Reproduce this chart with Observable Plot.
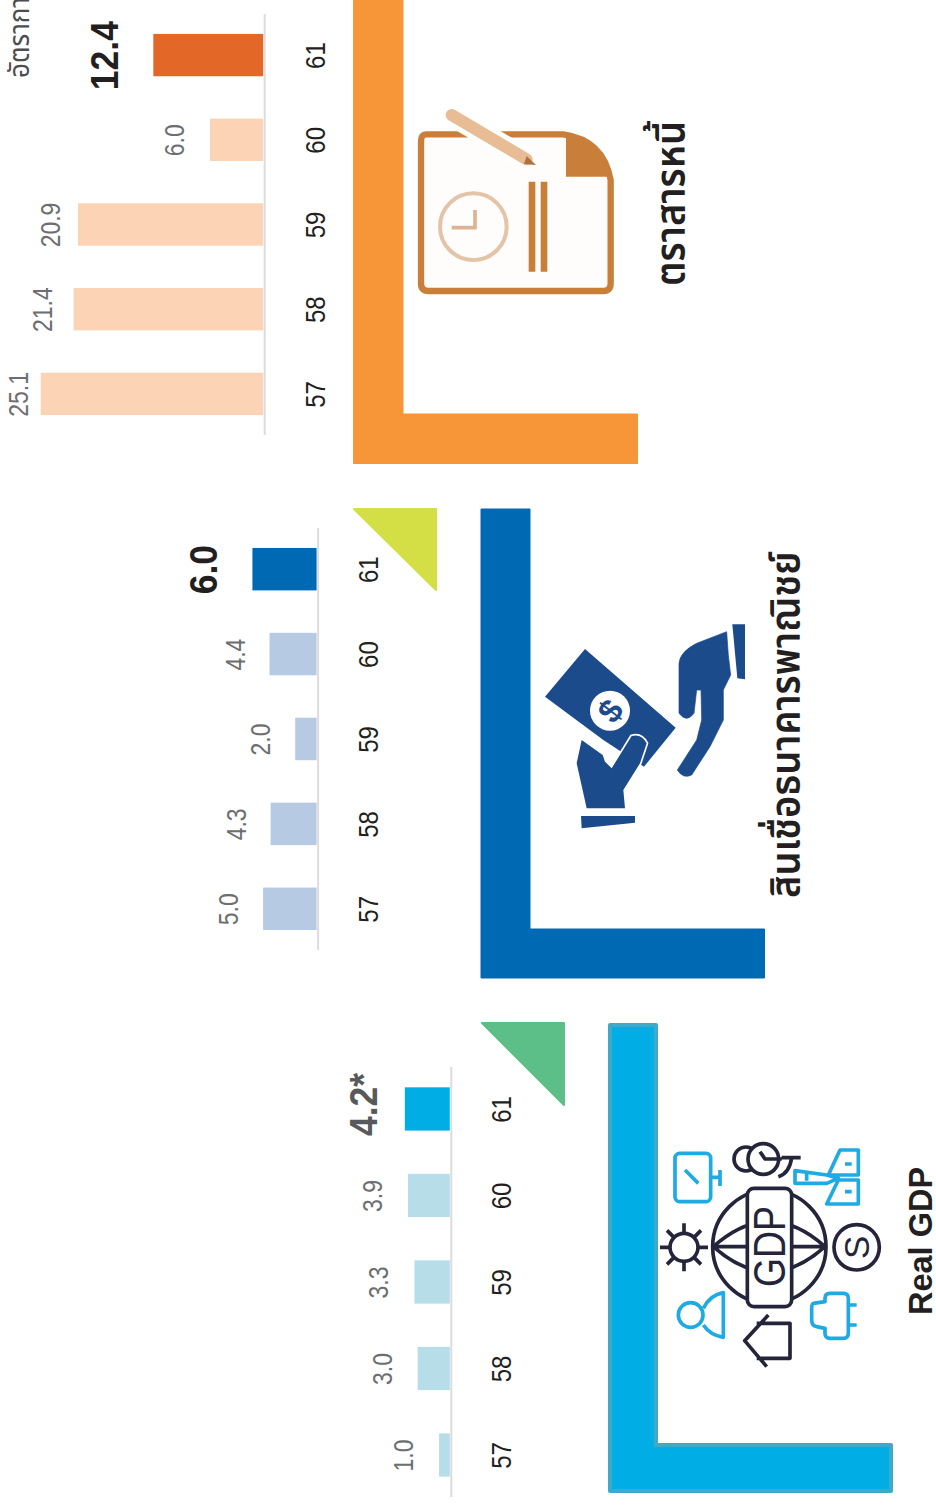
<!DOCTYPE html>
<html lang="th">
<head>
<meta charset="utf-8">
<title>Real GDP, สินเชื่อธนาคารพาณิชย์, ตราสารหนี้</title>
<script src="https://cdn.jsdelivr.net/npm/d3@7"></script>
<script src="https://cdn.jsdelivr.net/npm/@observablehq/plot@0.6"></script>
<style>
  html, body { margin: 0; padding: 0; background: #fff; }
  #page { position: relative; width: 936px; height: 1506px; overflow: hidden; background: #fff; }
  #page svg { position: absolute; top: 0; left: 0; }
</style>
</head>
<body>
<div id="page"></div>
<script>
// Growth figures, % per year, Buddhist-era years 2557-2561
const years = ["57", "58", "59", "60", "61"];
const debtGrowth = [25.1, 21.4, 20.9, 6.0, 12.4];
const creditGrowth = [5.0, 4.3, 2.0, 4.4, 6.0];
const gdpGrowth = [1.0, 3.0, 3.3, 3.9, 4.2];

const FONT = '"Liberation Sans", Arial, sans-serif';
const THAI = '"Noto Sans Thai", "Noto Sans", "DejaVu Sans", sans-serif';

// Layout of each rotated panel: px per percentage point comes from the x domain.
const panels = [
  {values: debtGrowth, top: 14, bottom: 435, base: 263.2, domainMax: 29.7, soft: "#fcd3b4", strong: "#e36827",
   gaps: [13.5, 22.5, 18.5, 26.5, 36], lastFill: "#231f20", suffix: "", lastLift: 0},
  {values: creditGrowth, top: 528, bottom: 950, base: 316.6, domainMax: 29.6, soft: "#b7cae3", strong: "#0069b4",
   gaps: [25.5, 25.5, 26, 25.5, 36], lastFill: "#231f20", suffix: "", lastLift: 0},
  {values: gdpGrowth, top: 1067, bottom: 1497, base: 449.8, domainMax: 42, soft: "#b7dde8", strong: "#00ade4",
   gaps: [26.5, 26.5, 26.5, 26.5, 28], lastFill: "#58595b", suffix: "*", lastLift: 5}
];

// Text in this sheet is slightly wider across its line height, so glyphs get a cross-axis stretch.
function stretchText(svg) {
  svg.querySelectorAll("text").forEach((t) => {
    const size = +(t.parentNode.getAttribute("font-size") || 0);
    const k = size > 30 ? 1.08 : 1.18;
    t.setAttribute("transform", `${t.getAttribute("transform")} scale(1,${k})`);
  });
  return svg;
}

function barPanel(p) {
  const rows = years.map((year, i) => ({
    year, value: p.values[i], gap: p.gaps[i], latest: i === years.length - 1,
    label: p.values[i].toFixed(1) + (i === years.length - 1 ? p.suffix : "")
  }));
  return stretchText(Plot.plot({
    width: p.base + 100,
    height: p.bottom + 5,
    marginLeft: 0,
    marginRight: 100,
    marginTop: p.top,
    marginBottom: 5,
    style: {background: "transparent", fontFamily: FONT},
    x: {domain: [p.domainMax, 0], axis: null},
    y: {domain: [...years].reverse(), paddingInner: 0.5, paddingOuter: 0.235, round: false, axis: null},
    marks: [
      Plot.barX(rows, {x: "value", y: "year", fill: (d) => (d.latest ? p.strong : p.soft)}),
      Plot.ruleX([0], {stroke: "#dcdcdc", strokeWidth: 2, dx: 1}),
      Plot.axisY({
        anchor: "right", tickSize: 0, tickPadding: 61, tickRotate: -90,
        fontSize: 24, color: "#231f20", label: null
      }),
      ...rows.map((r) => Plot.text([r], {
        x: "value", y: "year", text: "label", rotate: -90,
        textAnchor: "middle", lineAnchor: "bottom", dx: -r.gap, dy: r.latest ? -p.lastLift : 0,
        fontSize: r.latest ? 35.5 : 23,
        fontWeight: r.latest ? "bold" : "normal",
        fill: r.latest ? p.lastFill : "#6d6e71"
      }))
    ]
  }));
}

// Frames, corner wedges, icons and headings, all in sheet pixels.
function artwork() {
  const g = d3.create("svg:g");
  const path = (d, attrs = {}, parent = g) => {
    const e = parent.append("path").attr("d", d);
    Object.entries(attrs).forEach(([k, v]) => e.attr(k, v));
    return e;
  };
  const heading = (text, x, y, size, k, family, weight, fill) =>
    g.append("text").text(text)
      .attr("transform", `translate(${x},${y}) rotate(-90) scale(1,${k})`)
      .attr("text-anchor", "start")
      .attr("font-family", family).attr("font-size", size).attr("font-weight", weight).attr("fill", fill);

  // L-shaped frames and wedges
  path("M353.5,-6H403V414H637.5V463.5H353.5Z", {fill: "#f79539", stroke: "#f79539", "stroke-width": 1, "stroke-linejoin": "round"});
  path("M481,509H530V929H764.5V978H481Z", {fill: "#0069b4", stroke: "#0069b4", "stroke-width": 1, "stroke-linejoin": "round"});
  path("M610,1025H656V1445H891V1491H610Z", {fill: "#00ade4", stroke: "#3fa9c9", "stroke-width": 4, "stroke-linejoin": "round"});
  path("M354,509H436V590Z", {fill: "#d3df45", stroke: "#d3df45", "stroke-width": 2, "stroke-linejoin": "round"});
  path("M482,1023H564V1105Z", {fill: "#5cbf87", stroke: "#5cbf87", "stroke-width": 2, "stroke-linejoin": "round"});

  // Icons are authored on a 3x grid anchored at each icon's own origin
  const icon = (x, y) => g.append("g").attr("transform", `translate(${x},${y}) scale(${1 / 3})`);

  // Document with clock and pencil
  const doc = icon(340, 0);
  const brown = "#c97f3a";
  path("M258,403H670Q790,420 812,540V850Q812,873 790,873H265Q243,873 243,850V425Q243,403 258,403Z",
    {fill: "#fffdfb", stroke: brown, "stroke-width": 19}, doc);
  path("M678,408V530H808Q780,425 678,408Z", {fill: brown}, doc);
  path("M335,345L575,487", {stroke: "#fff", "stroke-width": 66, fill: "none"}, doc);
  path("M335,345L560,478", {stroke: "#e8bd96", "stroke-width": 36, fill: "none", "stroke-linecap": "round"}, doc);
  path("M560,468L588,495L552,492Z", {fill: "#b07040"}, doc);
  path("M576,545V815M612,545V815", {stroke: brown, "stroke-width": 20, fill: "none"}, doc);
  doc.append("circle").attr("cx", 400).attr("cy", 680).attr("r", 100)
    .attr("fill", "none").attr("stroke", "#e4c4a8").attr("stroke-width", 12);
  path("M405,630V683H335", {stroke: "#dcb493", "stroke-width": 11, fill: "none"}, doc);

  // Hands passing a banknote
  const money = icon(470, 500);
  const navy = "#1c4b8c";
  path("M345,447L617,683L522,800L400,720L225,590Z", {fill: navy}, money);
  money.append("circle").attr("cx", 420).attr("cy", 632).attr("r", 60).attr("fill", "#fff");
  money.append("text").text("$").attr("transform", "translate(420,632) rotate(-52)")
    .attr("text-anchor", "middle").attr("dy", "0.36em")
    .attr("font-family", FONT).attr("font-weight", "bold").attr("font-size", 100).attr("fill", navy);
  path("M335,720L320,790L350,925H465L460,870L510,790L530,730Q515,700 485,708L425,805L405,785L398,765Z",
    {fill: navy, stroke: "#fff", "stroke-width": 10, "paint-order": "stroke", "stroke-linejoin": "round"}, money);
  path("M333,948H495V968L335,985Z", {fill: navy}, money);
  path("M770,395L775,465L782,525L760,570V660L720,740L665,825Q640,838 622,810L680,720L695,660L693,570H680L672,640Q650,670 627,640V490Q630,455 680,430Z",
    {fill: navy, stroke: navy, "stroke-width": 2, "stroke-linejoin": "round"}, money);
  path("M787,373H825V538L802,535Z", {fill: navy}, money);

  // Globe with GDP band and its satellites
  const gdp = icon(600, 1010);
  const ink = "#24253a", sky = "#1eaae2";
  const line = {fill: "none", "stroke-width": 11, "stroke-linejoin": "round"};
  const dark = {...line, stroke: ink}, cyan = {...line, stroke: sky};
  gdp.append("circle").attr("cx", 508).attr("cy", 710).attr("r", 170).attr("fill", "#fff").attr("stroke", ink).attr("stroke-width", 11);
  path("M340,710H675M340,710Q508,560 675,710M340,710Q508,860 675,710", dark, gdp);
  gdp.append("rect").attr("x", 442).attr("y", 535).attr("width", 133).attr("height", 355).attr("rx", 20)
    .attr("fill", "#fff").attr("stroke", ink).attr("stroke-width", 11);
  gdp.append("text").text("GDP").attr("transform", "translate(555,710) rotate(-90) scale(1,1.2)")
    .attr("text-anchor", "middle").attr("font-family", FONT).attr("font-size", 112).attr("fill", ink);
  // sun
  gdp.append("circle").attr("cx", 252).attr("cy", 712).attr("r", 42).attr("fill", "none").attr("stroke", ink).attr("stroke-width", 11);
  path("M252,640V670M252,754V784M180,712H210M294,712H324M201,661L222,682M282,742L303,763M201,763L222,742M282,682L303,661", dark, gdp);
  // coin
  gdp.append("circle").attr("cx", 770).attr("cy", 712).attr("r", 68).attr("fill", "none").attr("stroke", ink).attr("stroke-width", 11);
  gdp.append("text").text("S").attr("transform", "translate(770,712) rotate(-90)").attr("text-anchor", "middle").attr("dy", "0.36em")
    .attr("font-family", FONT).attr("font-size", 105).attr("fill", ink);
  // monitor
  gdp.append("rect").attr("x", 225).attr("y", 430).attr("width", 107).attr("height", 145).attr("rx", 14).attr("fill", "none").attr("stroke", sky).attr("stroke-width", 11);
  path("M332,502H360M360,480V528M255,480L295,520", cyan, gdp);
  // cloud and clock
  gdp.append("circle").attr("cx", 438).attr("cy", 447).attr("r", 36).attr("fill", "#fff").attr("stroke", ink).attr("stroke-width", 11);
  gdp.append("circle").attr("cx", 490).attr("cy", 447).attr("r", 46).attr("fill", "#fff").attr("stroke", ink).attr("stroke-width", 11);
  path("M480,425L495,447H545M545,443H602M575,443Q568,490 535,500", dark, gdp);
  // plane
  path("M685,495L720,420H775V495ZM680,582L715,510H775V582ZM585,482L680,495L715,505L680,520L585,520Z", cyan, gdp);
  path("M735,462H755M735,545H755M620,490V512", cyan, gdp);
  // person
  gdp.append("circle").attr("cx", 272).attr("cy", 915).attr("r", 37).attr("fill", "none").attr("stroke", sky).attr("stroke-width", 11);
  path("M310,895Q330,855 370,848V982Q330,975 310,945", cyan, gdp);
  // house
  path("M505,915L434,992L500,1070M470,940H570V1045H470", dark, gdp);
  // plug
  path("M640,880L675,875V865Q675,850 690,850H730Q745,850 745,865V970Q745,985 730,985H690Q675,985 675,970V955L650,950Q635,948 635,930V895Q635,882 640,880ZM745,885H770M745,945H770", cyan, gdp);

  // Headings
  heading("ตราสารหนี้", 685, 286, 38, 1.08, THAI, "600", "#231f20");
  heading("สินเชื่อธนาคารพาณิชย์", 800, 898, 38, 1.08, THAI, "600", "#231f20");
  heading("Real GDP", 932, 1315, 32.5, 1.05, FONT, "bold", "#231f20");
  heading("อัตราการขยายตัว", 29, 78, 26, 1.1, THAI, "normal", "#4d4d4f");
  return g.node();
}

const page = document.getElementById("page");
page.append(Plot.plot({
  width: 936, height: 1506, margin: 0,
  style: {background: "transparent"},
  x: {axis: null}, y: {axis: null},
  marks: [artwork]
}));
panels.forEach((p) => page.append(barPanel(p)));
</script>
</body>
</html>
